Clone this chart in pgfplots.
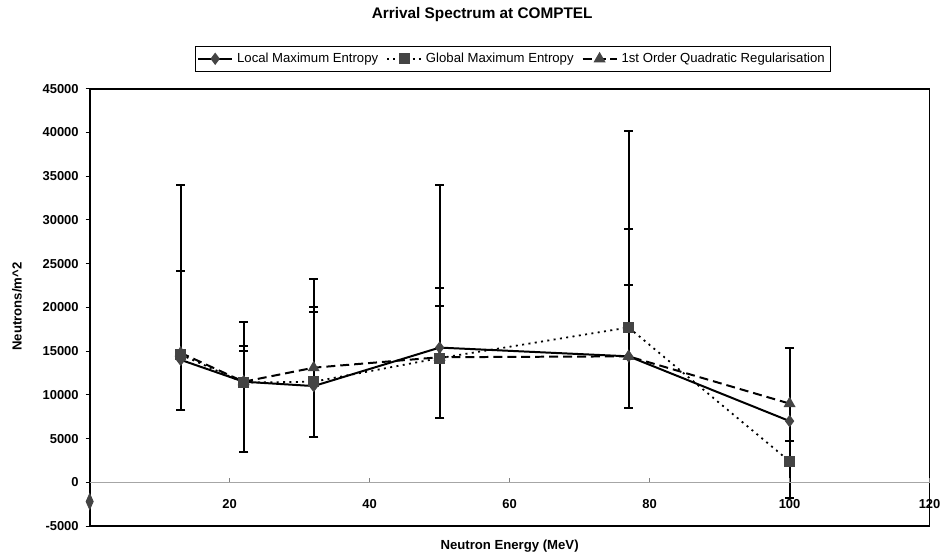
\documentclass[border=0pt]{standalone}
\usepackage{fontspec}
\setmainfont{Liberation Sans}
\usepackage{pgfplots}
\pgfplotsset{compat=1.18}

\definecolor{markgray}{HTML}{444444}

\pgfplotsset{
  common/.style={
    width=421.5pt, height=219.5pt, scale only axis,
    at={(0,0)}, anchor=south west,
    xmin=0, xmax=120, ymin=-5000, ymax=45000,
    /pgf/number format/assume math mode=true,
    /pgf/number format/set thousands separator={},
    scaled ticks=false,
    ticklabel style={font=\bfseries\fontsize{6.5}{7}\selectfont},
  },
  errs/.style={
    error bars/.cd, y dir=both, y explicit,
    error bar style={solid, black, line width=1.05pt},
    error mark options={black, solid, rotate=90, mark size=2.2pt, line width=1pt},
  },
}

\begin{document}
\begin{tikzpicture}
\path (-45pt,-15.5pt) rectangle (428.5pt,264pt);

% frame, y ticks and data
\begin{axis}[common,
  axis line style={line width=0.9pt},
  xtick=\empty,
  ytick={-5000,0,...,45000},
  ytick pos=left,
  tick align=outside, major tick length=2pt,
  tick style={black, thin},
  clip=false,
  xlabel={Neutron Energy (MeV)},
  ylabel={Neutrons/m\^{}2},
  label style={font=\bfseries\fontsize{6.6}{7.5}\selectfont},
  xlabel style={at={(axis description cs:0.5,-0.0456)}, anchor=center},
  ylabel style={at={(axis description cs:-0.0866,0.502)}, anchor=center},
  legend columns=3,
  legend style={at={(axis description cs:0.504,1.0683)}, anchor=center,
    draw=black, thin, font=\fontsize{6.6}{7.5}\selectfont,
    inner sep=1pt, row sep=0pt,
    /tikz/every even column/.append style={column sep=2pt}},
  legend cell align=left,
]

\addplot[black, line width=1pt, mark=diamond*, mark size=2.3pt,
  mark options={solid, fill=markgray, draw=markgray}, errs]
coordinates {
  (13,14000)  += (0,20000) -= (0,5700)
  (22,11500)  += (0,6800)  -= (0,8000)
  (32,11000)  += (0,12200) -= (0,5800)
  (50,15400)  += (0,18600) -= (0,8100)
  (77,14400)  += (0,25800) -= (0,5900)
  (100,7000)  += (0,8300)  -= (0,8800)
};
\addlegendentry{Local Maximum Entropy}

\addplot[black, line width=0.9pt, dash pattern=on 1pt off 2.2pt,
  mark=square*, mark size=2.3pt,
  mark options={solid, fill=markgray, draw=markgray}, errs]
coordinates {
  (13,14600)  += (0,9600)  -= (0,6300)
  (22,11400)  += (0,4200)  -= (0,7900)
  (32,11500)  += (0,8500)  -= (0,6300)
  (50,14200)  += (0,8000)  -= (0,6900)
  (77,17700)  += (0,11300) -= (0,9200)
  (100,2400)  += (0,2300)  -= (0,4200)
};
\addlegendentry{Global Maximum Entropy}

\addplot[black, line width=1pt, dash pattern=on 4.5pt off 2.5pt,
  mark=triangle*, mark size=2.5pt,
  mark options={solid, fill=markgray, draw=markgray}, errs]
coordinates {
  (13,14800)  += (0,9400)  -= (0,6500)
  (22,11500)  += (0,3500)  -= (0,8000)
  (32,13100)  += (0,6400)  -= (0,7900)
  (50,14300)  += (0,5900)  -= (0,7000)
  (77,14400)  += (0,8200)  -= (0,5900)
  (100,9000)  += (0,6300)  -= (0,10800)
};
\addlegendentry{1st Order Quadratic Regularisation}

% stray point on the y axis
\addplot[forget plot, only marks, mark=diamond*, mark size=4pt,
  mark options={fill=markgray, draw=markgray, xscale=0.6}]
coordinates {(0,-2200)};
\end{axis}

% x axis through zero
\begin{axis}[common,
  axis y line=none,
  axis x line*=middle,
  x axis line style={-, gray!70, thin},
  xtick={20,40,...,120},
  major tick length=2pt,
  tick style={gray, thin},
  xticklabel style={yshift=-5pt},
]
\end{axis}

\node[font=\bfseries\fontsize{7.7}{9}\selectfont] at (197pt,256.5pt)
  {Arrival Spectrum at COMPTEL};
\end{tikzpicture}
\end{document}
